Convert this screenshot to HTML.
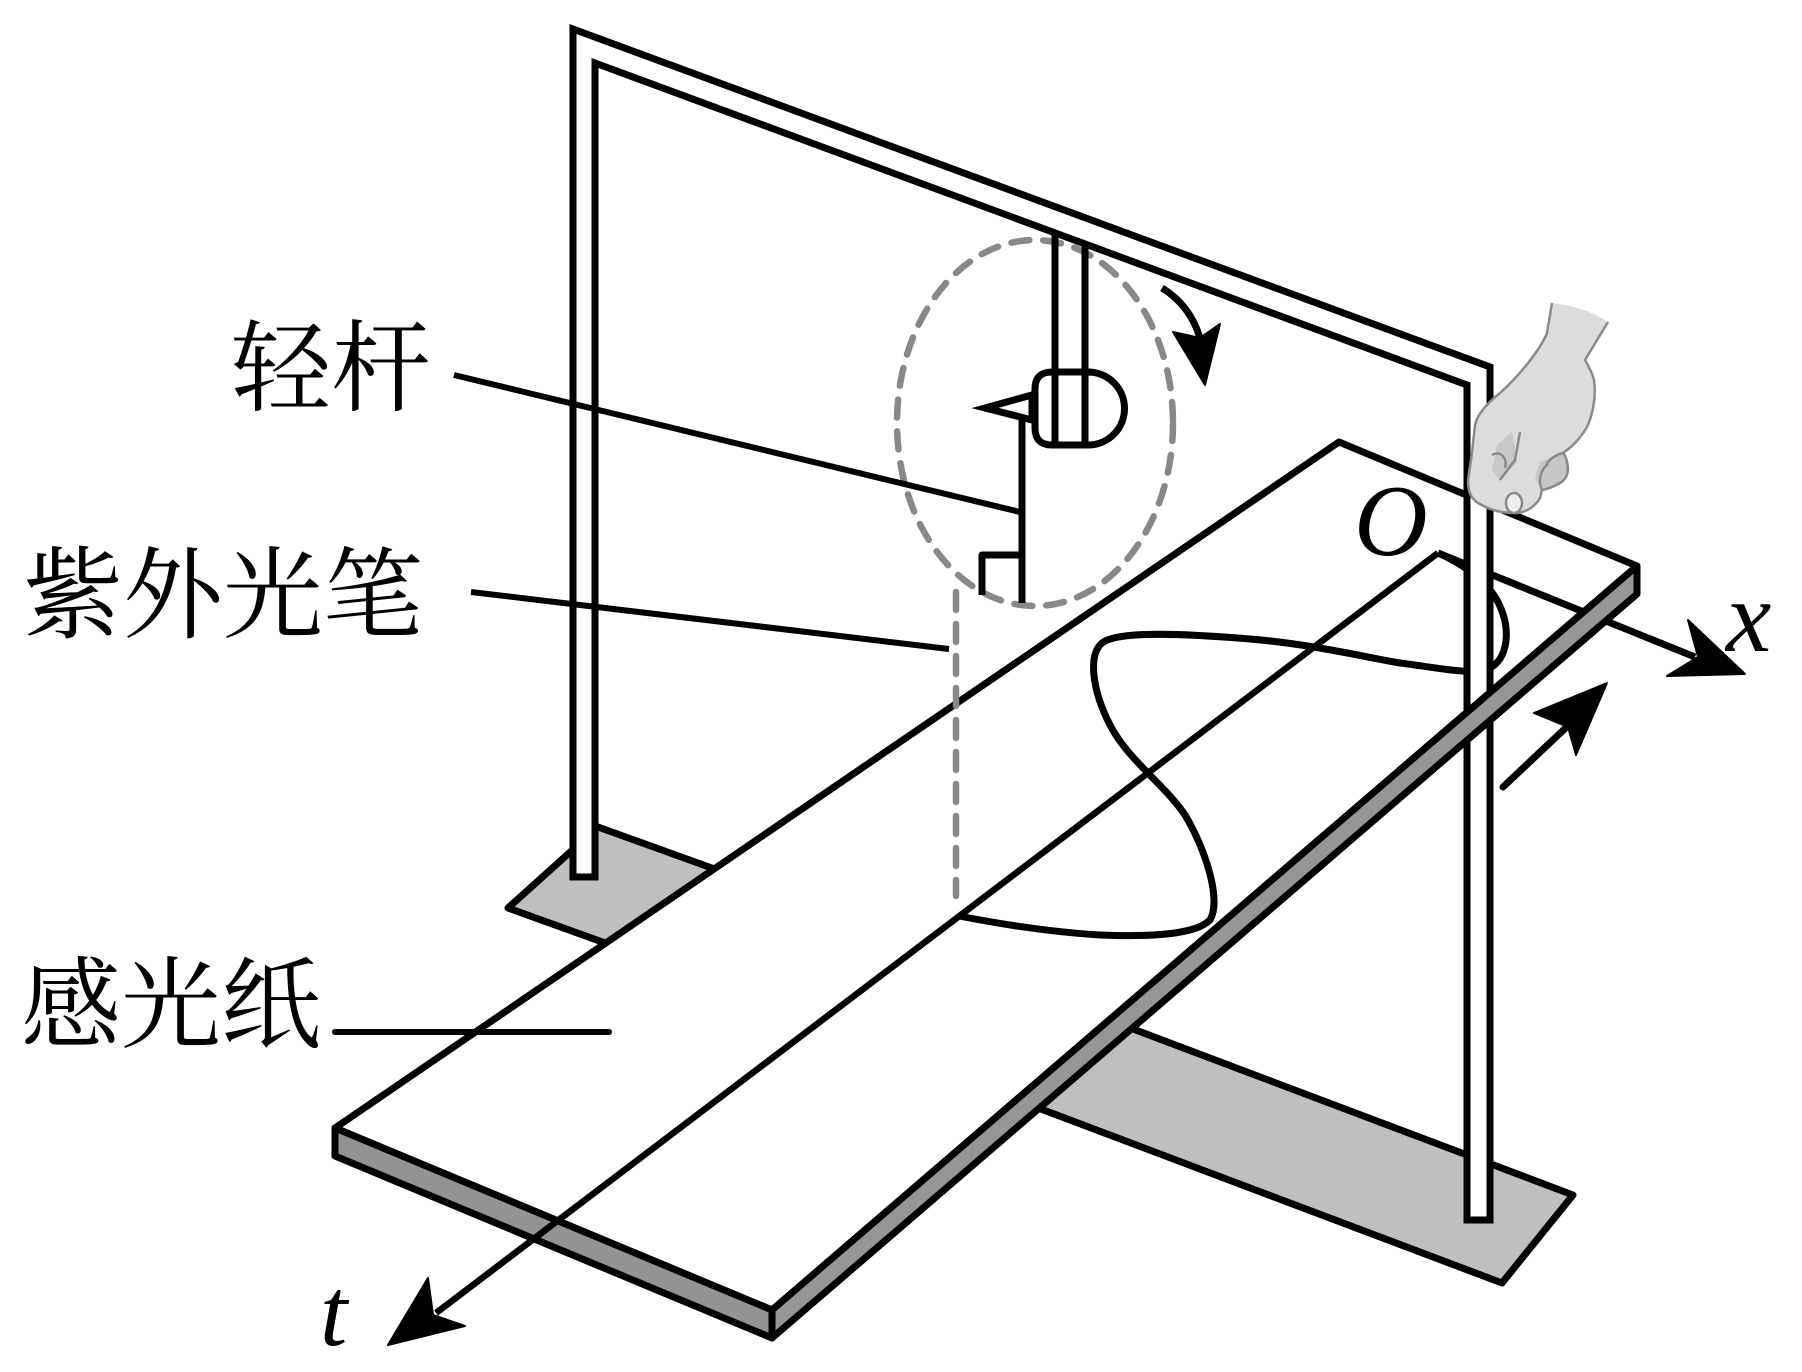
<!DOCTYPE html>
<html><head><meta charset="utf-8"><style>
html,body{margin:0;padding:0;background:#fff;}
svg{display:block;}
</style></head><body>
<svg width="1802" height="1372" viewBox="0 0 1802 1372" xmlns="http://www.w3.org/2000/svg">
<rect width="1802" height="1372" fill="#fff"/>
<g stroke="#000" stroke-width="7" stroke-linejoin="round" fill="none">
<!-- bases -->
<polygon points="598,827 770,889 680,970 508,908" fill="#bfbfbf"/>
<polygon points="1080,1009 1573,1195 1502,1283 1009,1097" fill="#bfbfbf"/>
<!-- frame -->
<polygon points="573,877 573,29 1490,367 1490,1220 1467,1220 1467,385 595,63 595,877" fill="#fff" stroke-linejoin="miter"/>
<!-- paper top face -->
<polygon points="1339,442 1637,566 772,1310 335,1128" fill="#fff"/>
<!-- trace -->
<path d="M1438,553 C1460,562 1488,582 1498,602 C1512,630 1508,660 1488,669 C1470,675 1440,668 1400,663 C1360,656 1310,644 1250,639 C1190,634 1118,630 1102,643 C1088,655 1092,690 1110,725 C1128,760 1165,785 1185,815 C1205,848 1222,900 1210,920 C1195,935 1150,937 1100,935 C1050,932 1000,924 959,916"/>
<!-- x axis -->
<line x1="1438" y1="553" x2="1695" y2="657"/>
<!-- right leg redraw -->
<rect x="1469" y="470" width="19" height="748" fill="#fff" stroke="none"/>
<line x1="1467" y1="470" x2="1467" y2="1220"/>
<line x1="1490" y1="470" x2="1490" y2="1220"/>
<line x1="1467" y1="1220" x2="1490" y2="1220"/>
<!-- paper strips -->
<polygon points="1637,566 772,1310 772,1338 1637,594" fill="#969696"/>
<polygon points="335,1128 772,1310 772,1338 335,1156" fill="#939393"/>
<!-- x arrowhead -->
<polygon points="1745,674 1688,620 1698,657 1667,676" fill="#000" stroke-width="2"/>
<!-- t axis -->
<line x1="1438" y1="553" x2="436" y2="1313" stroke-width="6.5"/>
<polygon points="388,1345 428,1278 433,1315 465,1326" fill="#000" stroke-width="2"/>
<!-- motion arrow -->
<line x1="1503" y1="787" x2="1572" y2="722" stroke-linecap="round"/>
<polygon points="1607,683 1534,713 1568,727 1576,755" fill="#000" stroke-width="2"/>
</g>
<!-- dashed -->
<g stroke="#888" stroke-width="6.5" fill="none" stroke-dasharray="18,14" stroke-linecap="round">
<ellipse cx="1035" cy="423" rx="138" ry="183"/>
<line x1="956" y1="592" x2="956" y2="896"/>
</g>
<g stroke="#000" stroke-width="7" fill="none" stroke-linejoin="round">
<!-- rod -->
<line x1="1055" y1="233" x2="1055" y2="445"/>
<line x1="1085" y1="244" x2="1085" y2="445"/>
<path d="M1052,372 L1088,372 A36.5,36.5 0 0 1 1088,445 L1052,445 Q1035,445 1035,428 L1035,389 Q1035,372 1052,372 Z" fill="#fff"/>
<line x1="1055" y1="372" x2="1055" y2="445"/>
<line x1="1085" y1="372" x2="1085" y2="445"/>
<polygon points="985,408 1032,395 1032,420" fill="#fff" stroke-linejoin="miter"/>
<line x1="1022" y1="417" x2="1022" y2="603"/>
<polyline points="982,595 982,555 1022,555"/>
<!-- rotation arrow -->
<path d="M1162,288 Q1190,305 1200,338"/>
<polygon points="1205,385 1173,332 1200,338 1220,324" fill="#000" stroke-width="2"/>
<!-- leaders -->
<line x1="454" y1="375" x2="1020" y2="512" stroke-width="6"/>
<line x1="471" y1="592" x2="949" y2="649" stroke-width="6"/>
<line x1="335" y1="1032" x2="609" y2="1032" stroke-width="6" stroke-linecap="round"/>
</g>
<!-- hand -->
<path d="M1552,303 L1547,333 C1540,350 1520,375 1500,393 C1485,405 1477,415 1475,425 L1472,453 L1468,480 C1468,490 1470,498 1478,503 C1490,510 1500,513 1517,513 C1528,512 1536,505 1540,498 L1542,490 C1548,489 1553,487 1560,483 C1568,478 1569,470 1567,462 C1566,457 1565,455 1563,453 C1572,447 1582,437 1588,425 C1594,410 1596,395 1594,380 C1592,372 1588,365 1585,360 L1608,322 C1590,310 1570,305 1552,303 Z" fill="#dcdcdc" stroke="none"/>
<path d="M1540,462 L1563,453 L1568,470 L1560,485 L1542,490 L1535,478 Z" fill="#c6c6c6"/>
<path d="M1497,445 L1512,432 L1517,462 L1500,480 L1492,470 Z" fill="#c8c8c8"/>
<g stroke="#8a8a8a" stroke-width="2.5" fill="none" stroke-linejoin="round">
<path d="M1552,303 L1547,333 C1540,350 1520,375 1500,393 C1485,405 1477,415 1475,425 L1472,453 L1468,480 C1468,490 1470,498 1478,503 C1490,510 1500,513 1517,513 C1528,512 1536,505 1540,498 L1542,490 C1548,489 1553,487 1560,483 C1568,478 1569,470 1567,462 C1566,457 1565,455 1563,453 C1572,447 1582,437 1588,425 C1594,410 1596,395 1594,380 C1592,372 1588,365 1585,360 L1608,322"/>
<path d="M1520,432 L1515,460 L1500,480"/>
<path d="M1492,455 C1500,450 1508,458 1505,468"/>
<path d="M1542,490 C1538,482 1540,470 1548,464"/>
<path d="M1563,453 C1555,455 1548,460 1546,466"/>
<ellipse cx="1514" cy="503" rx="8" ry="10" fill="#eee"/>
</g>
<!-- labels -->
<g font-family="'Liberation Serif','Noto Serif CJK SC',serif" font-size="100" fill="#000">
<text x="231" y="403">轻杆</text>
<text x="23" y="630">紫外光笔</text>
<text x="21" y="1040">感光纸</text>
</g>
<g font-family="'Liberation Serif',serif" font-style="italic" fill="#000">
<text x="1354" y="555" font-size="102">O</text>
<text x="320" y="1345" font-size="98">t</text>
<text x="1726" y="651" font-size="102">x</text>
</g>
</svg>
</body></html>
